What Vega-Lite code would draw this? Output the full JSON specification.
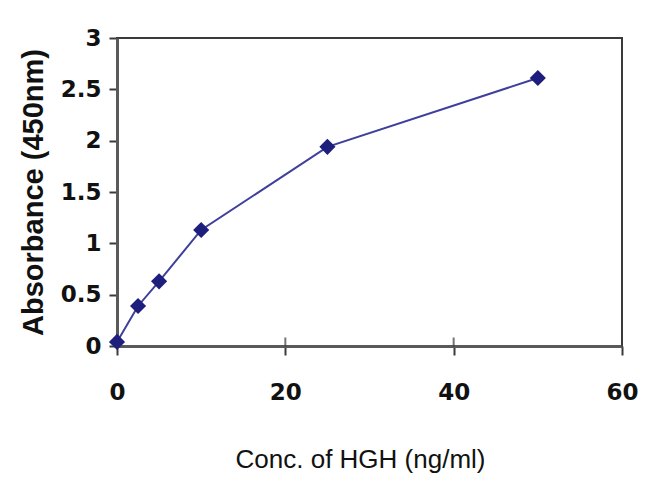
{
  "$schema": "https://vega.github.io/schema/vega-lite/v6.json",
  "width": 505,
  "height": 308,
  "autosize": {"type": "none"},
  "padding": {"left": 117, "top": 38, "right": 28, "bottom": 143},
  "background": "white",
  "config": {
    "view": {"stroke": "#3a3a3a", "strokeWidth": 2},
    "font": "Liberation Sans"
  },
  "datasets": {
    "pts": [
      {"conc": 0, "abs": 0.04},
      {"conc": 2.5, "abs": 0.39},
      {"conc": 5, "abs": 0.63},
      {"conc": 10, "abs": 1.13},
      {"conc": 25, "abs": 1.94},
      {"conc": 50, "abs": 2.61}
    ],
    "xticks": [{"t": 20}, {"t": 40}, {"t": 60}]
  },
  "layer": [
    {
      "data": {"name": "pts"},
      "mark": {"type": "line", "color": "#3f3f9c", "strokeWidth": 2},
      "encoding": {
        "x": {
          "field": "conc", "type": "quantitative",
          "scale": {"domain": [0, 60], "nice": false},
          "axis": {
            "values": [0, 20, 40, 60],
            "format": "~g",
            "labelFlush": false,
            "labelOverlap": false,
            "title": "Conc. of HGH (ng/ml)",
            "grid": false,
            "domainColor": "#5a5a5a", "domainWidth": 3,
            "tickColor": "#3a3a3a", "tickWidth": 2, "tickSize": 9,
            "labelFont": "DejaVu Sans", "labelFontSize": 23, "labelFontWeight": "bold", "labelColor": "#111",
            "labelPadding": 26,
            "titleFontSize": 26, "titleFontWeight": "normal", "titleColor": "#111",
            "titlePadding": 42,
            "titleX": 243
          }
        },
        "y": {
          "field": "abs", "type": "quantitative",
          "scale": {"domain": [0, 3], "nice": false},
          "axis": {
            "values": [0, 0.5, 1, 1.5, 2, 2.5, 3],
            "format": "~g",
            "labelFlush": false,
            "labelOverlap": false,
            "title": "Absorbance (450nm)",
            "grid": false,
            "domainColor": "#5a5a5a", "domainWidth": 3,
            "tickColor": "#3a3a3a", "tickWidth": 2, "tickSize": 8,
            "labelFont": "DejaVu Sans", "labelFontSize": 23, "labelFontWeight": "bold", "labelColor": "#111",
            "labelPadding": 8,
            "titleFontSize": 29, "titleFontWeight": "bold", "titleColor": "#111",
            "titlePadding": 12
          }
        }
      }
    },
    {
      "data": {"name": "pts"},
      "mark": {"type": "point", "shape": "diamond", "filled": true, "color": "#1e1e7c", "size": 260, "opacity": 1},
      "encoding": {
        "x": {"field": "conc", "type": "quantitative"},
        "y": {"field": "abs", "type": "quantitative"}
      }
    },
    {
      "data": {"name": "xticks"},
      "mark": {"type": "tick", "orient": "vertical", "color": "#3a3a3a", "thickness": 2, "size": 9, "yOffset": -4},
      "encoding": {
        "x": {"field": "t", "type": "quantitative"},
        "y": {"datum": 0}
      }
    }
  ]
}
